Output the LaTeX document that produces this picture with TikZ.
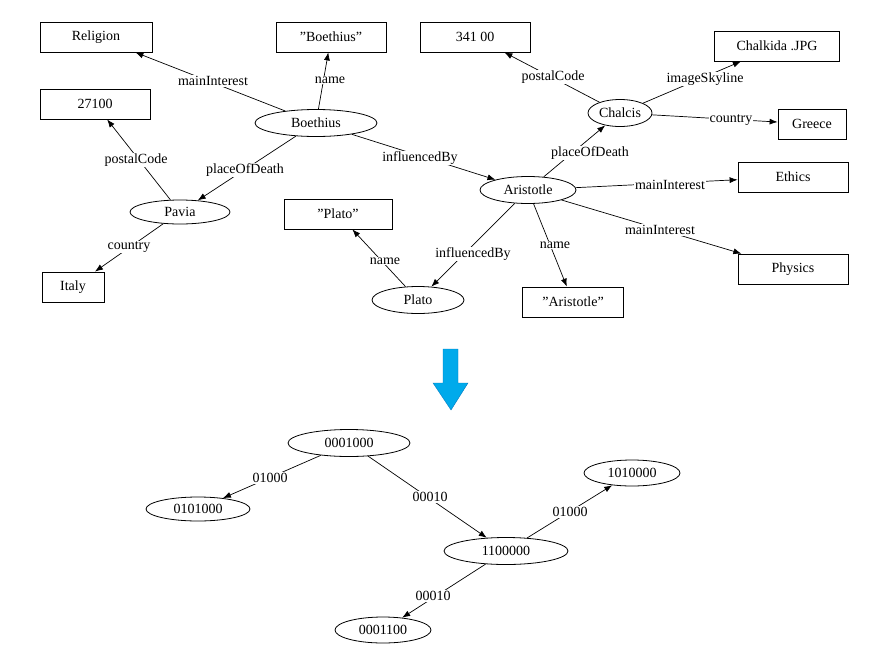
\documentclass[tikz,border=0pt]{standalone}
\usepackage{fontspec}
\setmainfont{Liberation Serif}
\usetikzlibrary{shapes.geometric,arrows.meta}
\begin{document}
\begin{tikzpicture}[x=1pt,y=-1pt,
  every node/.style={font=\fontsize{14}{16}\selectfont,inner sep=0pt},
  bx/.style={draw,thick,line width=0.8pt,minimum height=30,minimum width=#1},
  el/.style={draw,ellipse,line width=0.8pt,minimum width=#1,minimum height=27},
  lb/.style={fill=white,inner sep=1pt},
  ar/.style={line width=0.7pt,-{Latex[length=8pt,width=6pt]}}]
\useasboundingbox (0,0) rectangle (888,664);
% boxes
\node[bx=112] (rel) at (96,37) {Religion};
\node[bx=110] (qb) at (331,37) {"Boethius"};
\node[bx=110] (pc1) at (475,37) {341 00};
\node[bx=125] (chk) at (777,46) {Chalkida .JPG};
\node[bx=110] (p27) at (95,104) {27100};
\node[bx=68] (gr) at (812,124) {Greece};
\node[bx=110] (eth) at (793,177) {Ethics};
\node[bx=108] (qp) at (338,214) {"Plato"};
\node[bx=110] (phy) at (793,269) {Physics};
\node[bx=62] (ita) at (73,287) {Italy};
\node[bx=101] (qa) at (573,302) {"Aristotle"};
% ellipses
\node[el=122] (boe) at (316,123) {Boethius};
\node[el=64] (chc) at (620,113) {Chalcis};
\node[el=96] (ari) at (528,190) {Aristotle};
\node[el=100,minimum height=24] (pav) at (180,212) {Pavia};
\node[el=92] (pla) at (418,300) {Plato};
% edges
\draw[ar] (boe) -- (rel);
\draw[ar] (boe) -- (qb);
\draw[ar] (boe) -- (pav);
\draw[ar] (boe) -- (ari);
\draw[ar] (pav) -- (p27);
\draw[ar] (pav) -- (ita);
\draw[ar] (ari) -- (chc);
\draw[ar] (ari) -- (eth);
\draw[ar] (ari) -- (phy);
\draw[ar] (ari) -- (qa);
\draw[ar] (ari) -- (pla);
\draw[ar] (pla) -- (qp);
\draw[ar] (chc) -- (pc1);
\draw[ar] (chc) -- (chk);
\draw[ar] (chc) -- (gr);
% labels
\node[lb] (l1) at (213,81) {mainInterest};
\node[lb] (l2) at (330,80) {name};
\node[lb] (l3) at (553,77) {postalCode};
\node[lb] (l4) at (705,79) {imageSkyline};
\node[lb] (l5) at (731,120) {country};
\node[lb] (l6) at (136,160) {postalCode};
\node[lb] (l7) at (245,170) {placeOfDeath};
\node[lb] (l8) at (420,158) {influencedBy};
\node[lb] (l9) at (590,153) {placeOfDeath};
\node[lb] (l10) at (670,185) {mainInterest};
\node[lb] (l11) at (660,230) {mainInterest};
\node[lb] (l12) at (129,247) {country};
\node[lb] (l13) at (385,261) {name};
\node[lb] (l14) at (473,254) {influencedBy};
\node[lb] (l15) at (555,245) {name};
% big arrow
\fill[fill={rgb,255:red,0;green,170;blue,235},draw={rgb,255:red,0;green,120;blue,190}]
  (443,349) -- (458,349) -- (458,383) -- (468,383) -- (451,410) -- (433,383) -- (443,383) -- cycle;
% bottom tree
\node[el=122] (a) at (349,443) {0001000};
\node[el=104,minimum height=24] (b) at (198,509) {0101000};
\node[el=96,minimum height=26] (c) at (632,473) {1010000};
\node[el=124] (d) at (506,551) {1100000};
\node[el=96,minimum height=26] (e) at (383,630) {0001100};
\draw[ar] (a) -- (b);
\draw[ar] (a) -- (d);
\draw[ar] (d) -- (c);
\draw[ar] (d) -- (e);
\node[lb] (m1) at (270,478) {01000};
\node[lb] (m2) at (430,497) {00010};
\node[lb] (m3) at (570,512) {01000};
\node[lb] (m4) at (433,596) {00010};
\end{tikzpicture}
\end{document}
